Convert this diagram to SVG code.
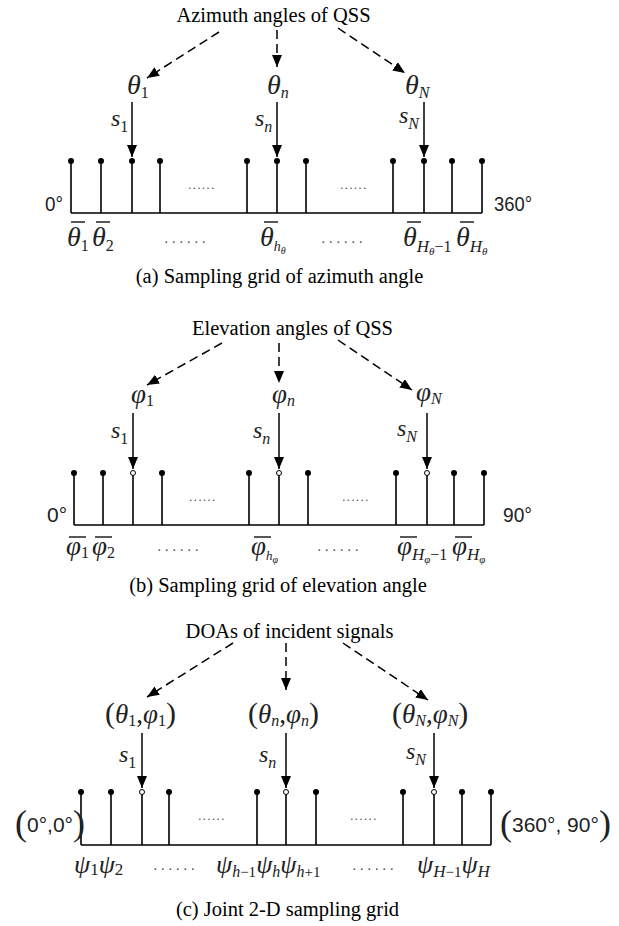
<svg xmlns="http://www.w3.org/2000/svg" width="619" height="926" viewBox="0 0 619 926">
<defs>
<marker id="ah" viewBox="0 0 12 10" refX="12" refY="5" markerWidth="12" markerHeight="10" orient="auto" markerUnits="userSpaceOnUse"><path d="M0,0 L12,5 L0,10 z" fill="#000"/></marker>
<style>
.t{font-family:"Liberation Serif","Times New Roman",serif;font-size:20.5px;fill:#000}
.mi{font-family:"Liberation Serif","Times New Roman",serif;font-style:italic;fill:#222}
.up{font-style:normal}
.sf{font-family:"Liberation Sans",Arial,sans-serif;font-size:21px;fill:#222}
.dash{stroke:#000;stroke-width:1.5;stroke-dasharray:9 5;fill:none;marker-end:url(#ah)}
.sol{stroke:#000;stroke-width:1.5;fill:none;marker-end:url(#ah)}
.stem{stroke:#000;stroke-width:1.6;fill:none}
.dot{fill:#000}
.hol{fill:#fff;stroke:#000;stroke-width:1}
.bar{stroke:#222;stroke-width:1.4}
.ud{font-family:"Liberation Serif",serif;font-size:12px;fill:#444;letter-spacing:1.6px}
.ld{font-family:"Liberation Serif",serif;font-size:14px;fill:#444;letter-spacing:4px}
</style>
</defs>
<rect width="619" height="926" fill="#fff"/>

<!-- ============ Panel (a) ============ -->
<g id="a-title"><text class="t" x="273.5" y="22" text-anchor="middle">Azimuth angles of QSS</text></g>
<g id="a-theta1"><text class="mi" x="127" y="94" font-size="28">θ<tspan class="up" font-size="16" dy="4">1</tspan></text></g>
<g id="a-thetan"><text class="mi" x="267" y="94" font-size="28">θ<tspan font-size="16" dy="4">n</tspan></text></g>
<g id="a-thetaN"><text class="mi" x="405" y="94" font-size="28">θ<tspan font-size="16" dy="4">N</tspan></text></g>
<g id="a-s"><text class="mi" x="111" y="126" font-size="24">s<tspan class="up" font-size="16" dy="6">1</tspan></text>
<text class="mi" x="255" y="126" font-size="24">s<tspan font-size="16" dy="6">n</tspan></text>
<text class="mi" x="399" y="123" font-size="24">s<tspan font-size="16" dy="6">N</tspan></text></g>
<g id="a-grid">
<path class="stem" d="M71,213 H482 M71,161 V213 M101,161 V213 M132,161 V213 M160,161 V213 M247,161 V213 M277,161 V213 M306,161 V213 M393,161 V213 M424,161 V213 M452,161 V213 M482,161 V213"/>
<g class="dot"><circle cx="71" cy="161" r="3"/><circle cx="101" cy="161" r="3"/><circle cx="132" cy="161" r="3"/><circle cx="160" cy="161" r="3"/><circle cx="247" cy="161" r="3"/><circle cx="277" cy="161" r="3"/><circle cx="306" cy="161" r="3"/><circle cx="393" cy="161" r="3"/><circle cx="424" cy="161" r="3"/><circle cx="452" cy="161" r="3"/><circle cx="482" cy="161" r="3"/></g>
<text class="ud" x="202" y="189" text-anchor="middle">......</text>
<text class="ud" x="354" y="189" text-anchor="middle">......</text>
</g>
<g id="a-ends"><text class="sf" x="45" y="211" textLength="18" lengthAdjust="spacingAndGlyphs">0°</text><text class="sf" x="494" y="211" textLength="38" lengthAdjust="spacingAndGlyphs">360°</text></g>
<g id="a-labels">
<text class="mi" x="67" y="246" font-size="28">θ<tspan class="up" font-size="16" dy="5">1</tspan></text>
<text class="mi" x="92" y="246" font-size="28">θ<tspan class="up" font-size="16" dy="5">2</tspan></text>
<text class="ld" x="187" y="243" text-anchor="middle">......</text>
<text class="mi" x="260" y="246" font-size="28">θ<tspan font-size="14" dy="5">h</tspan><tspan font-size="10" dy="3">θ</tspan></text>
<text class="ld" x="344" y="243" text-anchor="middle">......</text>
<text class="mi" x="403" y="246" font-size="28">θ<tspan font-size="17" dy="6">H</tspan><tspan font-size="11" dy="3">θ</tspan><tspan class="up" font-size="16" dy="-3">−1</tspan></text>
<text class="mi" x="456" y="246" font-size="28">θ<tspan font-size="17" dy="6">H</tspan><tspan font-size="11" dy="3">θ</tspan></text>
<path class="bar" d="M71,222 H85 M96,222 H110 M264,222 H278 M407,222 H421 M460,222 H474"/>
</g>
<g id="a-caption"><text class="t" x="279.5" y="283" text-anchor="middle">(a) Sampling grid of azimuth angle</text></g>

<!-- ============ Panel (b) ============ -->
<g id="b-title"><text class="t" x="292.5" y="335" text-anchor="middle">Elevation angles of QSS</text></g>
<g id="b-phi1"><text class="mi" x="131" y="403" font-size="27">φ<tspan class="up" font-size="16" dy="3">1</tspan></text></g>
<g id="b-phin"><text class="mi" x="272" y="403" font-size="27">φ<tspan font-size="16" dy="3">n</tspan></text></g>
<g id="b-phiN"><text class="mi" x="416" y="401" font-size="27">φ<tspan font-size="16" dy="3">N</tspan></text></g>
<g id="b-s"><text class="mi" x="111" y="438" font-size="24">s<tspan class="up" font-size="16" dy="6">1</tspan></text>
<text class="mi" x="253" y="438" font-size="24">s<tspan font-size="16" dy="6">n</tspan></text>
<text class="mi" x="397" y="436" font-size="24">s<tspan font-size="16" dy="6">N</tspan></text></g>
<g id="b-grid">
<path class="stem" d="M74,525 H484 M74,473 V525 M103,473 V525 M133,473 V525 M162,473 V525 M249,473 V525 M279,473 V525 M308,473 V525 M396,473 V525 M427,473 V525 M454,473 V525 M484,473 V525"/>
<g class="dot"><circle cx="74" cy="473" r="3"/><circle cx="103" cy="473" r="3"/><circle cx="162" cy="473" r="3"/><circle cx="249" cy="473" r="3"/><circle cx="308" cy="473" r="3"/><circle cx="396" cy="473" r="3"/><circle cx="454" cy="473" r="3"/><circle cx="484" cy="473" r="3"/></g>
<g class="hol"><circle cx="133" cy="473" r="2.5"/><circle cx="279" cy="473" r="2.5"/><circle cx="427" cy="473" r="2.5"/></g>
<text class="ud" x="203" y="501" text-anchor="middle">......</text>
<text class="ud" x="356" y="501" text-anchor="middle">......</text>
</g>
<g id="b-ends"><text class="sf" x="47" y="522" textLength="20" lengthAdjust="spacingAndGlyphs">0°</text><text class="sf" x="503" y="522" textLength="29" lengthAdjust="spacingAndGlyphs">90°</text></g>
<g id="b-labels">
<text class="mi" x="66" y="555" font-size="27">φ<tspan class="up" font-size="16" dy="3">1</tspan></text>
<text class="mi" x="92" y="555" font-size="27">φ<tspan class="up" font-size="16" dy="3">2</tspan></text>
<text class="ld" x="180" y="551" text-anchor="middle">......</text>
<text class="mi" x="251" y="555" font-size="27">φ<tspan font-size="13" dy="5">h</tspan><tspan font-size="10" dy="3">φ</tspan></text>
<text class="ld" x="340" y="551" text-anchor="middle">......</text>
<text class="mi" x="397" y="555" font-size="27">φ<tspan font-size="17" dy="5">H</tspan><tspan font-size="11" dy="3">φ</tspan><tspan class="up" font-size="16" dy="-3">−1</tspan></text>
<text class="mi" x="452" y="555" font-size="27">φ<tspan font-size="17" dy="5">H</tspan><tspan font-size="11" dy="3">φ</tspan></text>
<path class="bar" d="M69,537 H86 M95,537 H112 M254,537 H271 M400,537 H417 M455,537 H472"/>
</g>
<g id="b-caption"><text class="t" x="278" y="592" text-anchor="middle">(b) Sampling grid of elevation angle</text></g>

<!-- ============ Panel (c) ============ -->
<g id="c-title"><text class="t" x="289.5" y="638" text-anchor="middle">DOAs of incident signals</text></g>
<g id="c-doa1"><text class="mi" x="105" y="723" font-size="27"><tspan class="up" font-size="30">(</tspan>θ<tspan class="up" font-size="16" dy="3">1</tspan><tspan class="up" dy="-3">,</tspan>φ<tspan class="up" font-size="16" dy="3">1</tspan><tspan class="up" font-size="30" dy="-3">)</tspan></text></g>
<g id="c-doan"><text class="mi" x="248" y="723" font-size="27"><tspan class="up" font-size="30">(</tspan>θ<tspan font-size="16" dy="3">n</tspan><tspan class="up" dy="-3">,</tspan>φ<tspan font-size="16" dy="3">n</tspan><tspan class="up" font-size="30" dy="-3">)</tspan></text></g>
<g id="c-doaN"><text class="mi" x="392" y="723" font-size="27"><tspan class="up" font-size="30">(</tspan>θ<tspan font-size="16" dy="3">N</tspan><tspan class="up" dy="-3">,</tspan>φ<tspan font-size="16" dy="3">N</tspan><tspan class="up" font-size="30" dy="-3">)</tspan></text></g>
<g id="c-s"><text class="mi" x="119" y="762" font-size="24">s<tspan class="up" font-size="16" dy="6">1</tspan></text>
<text class="mi" x="259" y="762" font-size="24">s<tspan font-size="16" dy="6">n</tspan></text>
<text class="mi" x="406" y="759" font-size="24">s<tspan font-size="16" dy="6">N</tspan></text></g>
<g id="c-grid">
<path class="stem" d="M81,845 H491 M81,792 V845 M111,792 V845 M142,792 V845 M169,792 V845 M257,792 V845 M286,792 V845 M316,792 V845 M403,792 V845 M434,792 V845 M462,792 V845 M491,792 V845"/>
<g class="dot"><circle cx="81" cy="792" r="3"/><circle cx="111" cy="792" r="3"/><circle cx="169" cy="792" r="3"/><circle cx="257" cy="792" r="3"/><circle cx="316" cy="792" r="3"/><circle cx="403" cy="792" r="3"/><circle cx="462" cy="792" r="3"/><circle cx="491" cy="792" r="3"/></g>
<g class="hol"><circle cx="142" cy="792" r="2.5"/><circle cx="286" cy="792" r="2.5"/><circle cx="434" cy="792" r="2.5"/></g>
<text class="ud" x="212" y="820" text-anchor="middle">......</text>
<text class="ud" x="364" y="820" text-anchor="middle">......</text>
</g>
<g id="c-ends">
<text class="sf" x="15" y="832" font-size="20"><tspan font-family="Liberation Serif" font-size="36" dy="3">(</tspan><tspan dy="-3">0°,0°</tspan><tspan font-family="Liberation Serif" font-size="36" dy="3">)</tspan></text>
<text class="sf" x="500" y="832" font-size="20"><tspan font-family="Liberation Serif" font-size="36" dy="3">(</tspan><tspan dy="-3">360°, 90°</tspan><tspan font-family="Liberation Serif" font-size="36" dy="3">)</tspan></text>
</g>
<g id="c-labels">
<text class="mi" x="74" y="873" font-size="26">ψ<tspan class="up" font-size="17" dy="2">1</tspan><tspan dy="-2">ψ</tspan><tspan class="up" font-size="17" dy="2">2</tspan></text>
<text class="ld" x="176" y="870" text-anchor="middle">......</text>
<text class="mi" x="216" y="873" font-size="26">ψ<tspan font-size="16" dy="4">h</tspan><tspan class="up" font-size="15">−1</tspan><tspan dy="-4">ψ</tspan><tspan font-size="16" dy="4">h</tspan><tspan dy="-4">ψ</tspan><tspan font-size="16" dy="4">h</tspan><tspan class="up" font-size="15">+1</tspan></text>
<text class="ld" x="375" y="870" text-anchor="middle">......</text>
<text class="mi" x="417" y="873" font-size="26">ψ<tspan font-size="17" dy="4">H</tspan><tspan class="up" font-size="15">−1</tspan><tspan dy="-4">ψ</tspan><tspan font-size="17" dy="4">H</tspan></text>
</g>
<g id="c-caption"><text class="t" x="287.5" y="916" text-anchor="middle">(c) Joint 2-D sampling grid</text></g>

<!-- ============ Connectors ============ -->
<g id="connectors">
<line class="dash" x1="219" y1="32" x2="147" y2="78"/>
<line class="dash" x1="277" y1="30" x2="277" y2="67"/>
<line class="dash" x1="338" y1="28" x2="405" y2="73"/>
<line class="sol" x1="132" y1="102" x2="132" y2="157"/>
<line class="sol" x1="277" y1="102" x2="277" y2="157"/>
<line class="sol" x1="424" y1="102" x2="424" y2="157"/>

<line class="dash" x1="222" y1="343" x2="147" y2="385"/>
<line class="dash" x1="279" y1="343" x2="279" y2="383"/>
<line class="dash" x1="338" y1="340" x2="412" y2="390"/>
<line class="sol" x1="133" y1="413" x2="133" y2="469"/>
<line class="sol" x1="279" y1="413" x2="279" y2="469"/>
<line class="sol" x1="427" y1="413" x2="427" y2="469"/>

<line class="dash" x1="233" y1="643" x2="147" y2="697"/>
<line class="dash" x1="286" y1="643" x2="286" y2="690"/>
<line class="dash" x1="343" y1="643" x2="428" y2="700"/>
<line class="sol" x1="142" y1="733" x2="142" y2="788"/>
<line class="sol" x1="286" y1="733" x2="286" y2="788"/>
<line class="sol" x1="434" y1="733" x2="434" y2="788"/>
</g>
</svg>
